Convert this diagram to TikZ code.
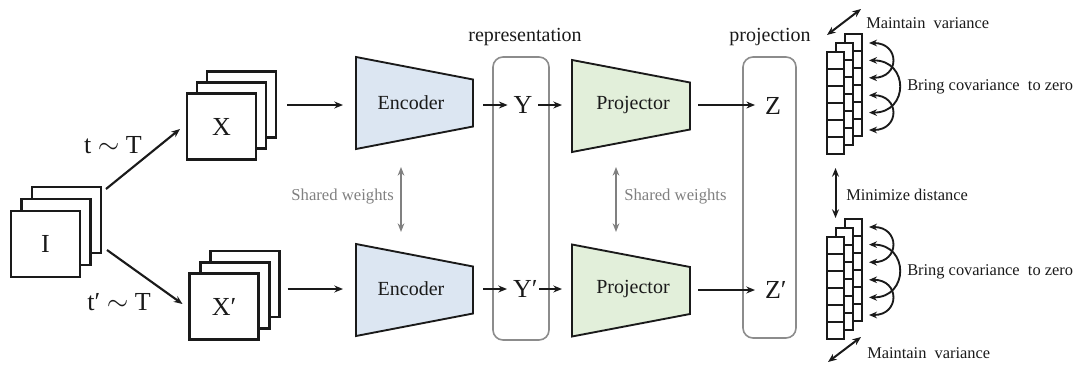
\documentclass[tikz,border=0pt]{standalone}
\usepackage{fontspec}
\setmainfont{Liberation Serif}
\usetikzlibrary{arrows.meta,calc}
\definecolor{ink}{HTML}{1A1A1A}
\definecolor{encblue}{HTML}{DCE6F2}
\definecolor{projgreen}{HTML}{E2EFDA}
\definecolor{roundgray}{HTML}{8C8C8C}
\definecolor{sharegray}{HTML}{808080}
\newcommand{\vcolumn}[3]{%
  \node[colbox] (#1) at (#2+8.5,#3+51) {};
  \foreach \k in {1,...,5} \draw[ink, line width=1.3pt] ($(#1.north west)+(0,17*\k)$) -- ++(17,0);
}
\tikzset{
  card/.style={draw=ink, fill=white, line width=1.6pt, minimum width=51.75pt, minimum height=49.5pt, inner sep=0pt, outer sep=0pt, font=\fontsize{19.5}{22}\selectfont, text=ink},
  trapnode/.style={minimum width=#1, minimum height=69pt, inner sep=0pt, outer sep=0pt},
  trapline/.style={draw=ink, line width=1.4pt, line join=miter},
  roundbox/.style={draw=roundgray, line width=1.2pt, rounded corners=7.5pt, inner sep=0pt, outer sep=0pt},
  letter/.style={font=\fontsize{19.5}{22}\selectfont, text=ink, inner sep=0pt, outer sep=0pt},
  lbl/.style={font=\fontsize{15}{18}\selectfont, text=ink, inner sep=0pt},
  small/.style={font=\fontsize{12.3}{15}\selectfont, text=ink, inner sep=0pt},
  sharedlbl/.style={font=\fontsize{12.5}{15}\selectfont, text=sharegray, inner sep=0pt},
  colbox/.style={draw=ink, fill=white, line width=1.3pt, minimum width=12.75pt, minimum height=76.5pt, inner sep=0pt, outer sep=0pt},
  arr/.style={draw=ink, line width=1.6pt, -{Stealth[length=6.5pt,width=5.2pt]}},
  darr/.style={draw=ink, line width=1.5pt, {Stealth[length=6.5pt,width=5.2pt]}-{Stealth[length=6.5pt,width=5.2pt]}},
  garr/.style={draw=sharegray, line width=1.4pt, {Stealth[length=6.5pt,width=5pt]}-{Stealth[length=6.5pt,width=5pt]}},
  carr/.style={draw=ink, line width=1.4pt, {Stealth[length=6pt,width=5pt]}-{Stealth[length=6pt,width=5pt]}},
}
\begin{document}
\begin{tikzpicture}[x=0.75pt,y=-0.75pt]
\useasboundingbox (0,0) rectangle (1077,364);

% input image stack
\node[card] (Ib) at (66.5,220) {};
\node[card] (Im) at (56,232) {};
\node[card] (If) at (45.5,244) {I};

% X stack
\node[card] (Xb) at (241.5,104.5) {};
\node[card] (Xm) at (231.5,115.5) {};
\node[card] (Xf) at (221.5,126.5) {X};

% X' stack
\node[card] (Xpb) at (245,284) {};
\node[card] (Xpm) at (235,295.5) {};
\node[card] (Xpf) at (224,306.5) {X′};

% augmentation arrows
\draw[arr] ($(Ib.north east)+(5,2)$) -- ($(Xf.west)+(-7,2.5)$);
\draw[arr] ($(Ib.south east)+(6,-3)$) -- ($(Xpf.west)+(-7,-2.5)$);
\node[letter] (tT) at (113,145) {t $\sim$ T};
\node[letter] (tpT) at (119,302) {t′ $\sim$ T};

% rounded boxes
\node[roundbox, minimum width=42pt, minimum height=212.25pt] (rep) at (521,198.5) {};
\node[roundbox, minimum width=39.75pt, minimum height=210.75pt] (proj) at (769.5,197.5) {};
\node[lbl] (replbl) at (525,37) {representation};
\node[lbl] (projlbl) at (770,37) {projection};

% encoders
\node[trapnode=87.75pt] (enc1) at (414.5,103) {};
\node[trapnode=87.75pt] (enc2) at (414.5,290) {};
\foreach \e in {enc1,enc2}{
  \draw[trapline, fill=encblue] (\e.north west) -- ($(\e.east)+(0,-23.5)$) -- ($(\e.east)+(0,23.5)$) -- (\e.south west) -- cycle;
}
\node[lbl] (enc1lbl) at (411,103) {Encoder};
\node[lbl] (enc2lbl) at (411,289) {Encoder};

% projectors
\node[trapnode=88.5pt] (proj1) at (631,106) {};
\node[trapnode=88.5pt] (proj2) at (631,290.5) {};
\foreach \p in {proj1,proj2}{
  \draw[trapline, fill=projgreen] (\p.north west) -- ($(\p.east)+(0,-23.5)$) -- ($(\p.east)+(0,23.5)$) -- (\p.south west) -- cycle;
}
\node[lbl] (proj1lbl) at (633,105) {Projector};
\node[lbl] (proj2lbl) at (633,289) {Projector};

% letters
\node[letter] (Y) at (523,105) {Y};
\node[letter, anchor=west] (Yp) at (513,289) {Y′};
\node[letter] (Z) at (773,106) {Z};
\node[letter, anchor=west] (Zp) at (765,290) {Z′};

% main arrows
\draw[arr] ($(Xb.east)+(11,0.5)$) -- ($(Xb.east -| enc1.west)+(-13,0.5)$);
\draw[arr] ($(Xpb.east)+(8,5)$) -- ($(enc2.west)+(-13,-1)$);
\draw[arr] ($(enc1.east |- Y.west)+(10,0)$) -- ($(Y.west)+(-6,0)$);
\draw[arr] ($(Y.east)+(6,0)$) -- ($(proj1.west |- Y.east)+(-10,0)$);
\draw[arr] ($(enc2.east |- Yp.west)+(10,0)$) -- ($(Yp.west)+(-6,0)$);
\draw[arr] ($(Yp.east)+(2,0)$) -- ($(proj2.west |- Yp.east)+(-10,0)$);
\draw[arr] ($(proj1.east |- Z.west)+(8,-1)$) -- ($(Z.west)+(-10,-1)$);
\draw[arr] ($(proj2.east |- Zp.west)+(8,0)$) -- ($(Zp.west)+(-10,0)$);

% shared weights
\draw[garr] ($(enc1.south)+(-13.5,18)$) -- ($(enc2.north)+(-13.5,-12)$);
\draw[garr] ($(proj1.south)+(-15,15)$) -- ($(proj2.north)+(-15,-12.5)$);
\node[sharedlbl, anchor=east] (sw1) at (394,197) {Shared weights};
\node[sharedlbl, anchor=west] (sw2) at (624,197) {Shared weights};

% embedding columns
\vcolumn{t3}{845}{34}
\vcolumn{t2}{836}{43}
\vcolumn{t1}{827}{52}
\vcolumn{b3}{845}{219}
\vcolumn{b2}{836}{228}
\vcolumn{b1}{827}{237}

% covariance arcs (top)
\draw[carr] (869,43) .. controls (900,43) and (900,77.8) .. (869,77.8);
\draw[carr] (869,60.4) .. controls (909,60.4) and (909,112.6) .. (869,112.6);
\draw[carr] (869,95.2) .. controls (900,95.2) and (900,130) .. (869,130);
% covariance arcs (bottom)
\draw[carr] (869,227) .. controls (900,227) and (900,262.2) .. (869,262.2);
\draw[carr] (869,244.6) .. controls (909,244.6) and (909,297.4) .. (869,297.4);
\draw[carr] (869,279.8) .. controls (900,279.8) and (900,315) .. (869,315);
\node[small, anchor=west] (cov1) at (907,87) {Bring covariance~ to zero};
\node[small, anchor=west] (cov2) at (907,272) {Bring covariance~ to zero};

% variance arrows
\coordinate (v1a) at ($(t1.north west)+(0,-17)$);
\coordinate (v1b) at ($(t3.north east)+(-1,-25)$);
\draw[darr] (v1a) -- (v1b);
\node[small, anchor=west] (var1) at (866,23) {Maintain~ variance};
\coordinate (v2a) at ($(b1.south west)+(1,23)$);
\coordinate (v2b) at ($(b3.south east)+(-1,16)$);
\draw[darr] (v2a) -- (v2b);
\node[small, anchor=west] (var2) at (867,353) {Maintain~ variance};

% distance
\draw[darr] ($(t1.south)+(0,14)$) -- ($(b1.north)+(0,-19)$);
\node[small, anchor=west] (dist) at (846,195) {Minimize distance};
\end{tikzpicture}
\end{document}
